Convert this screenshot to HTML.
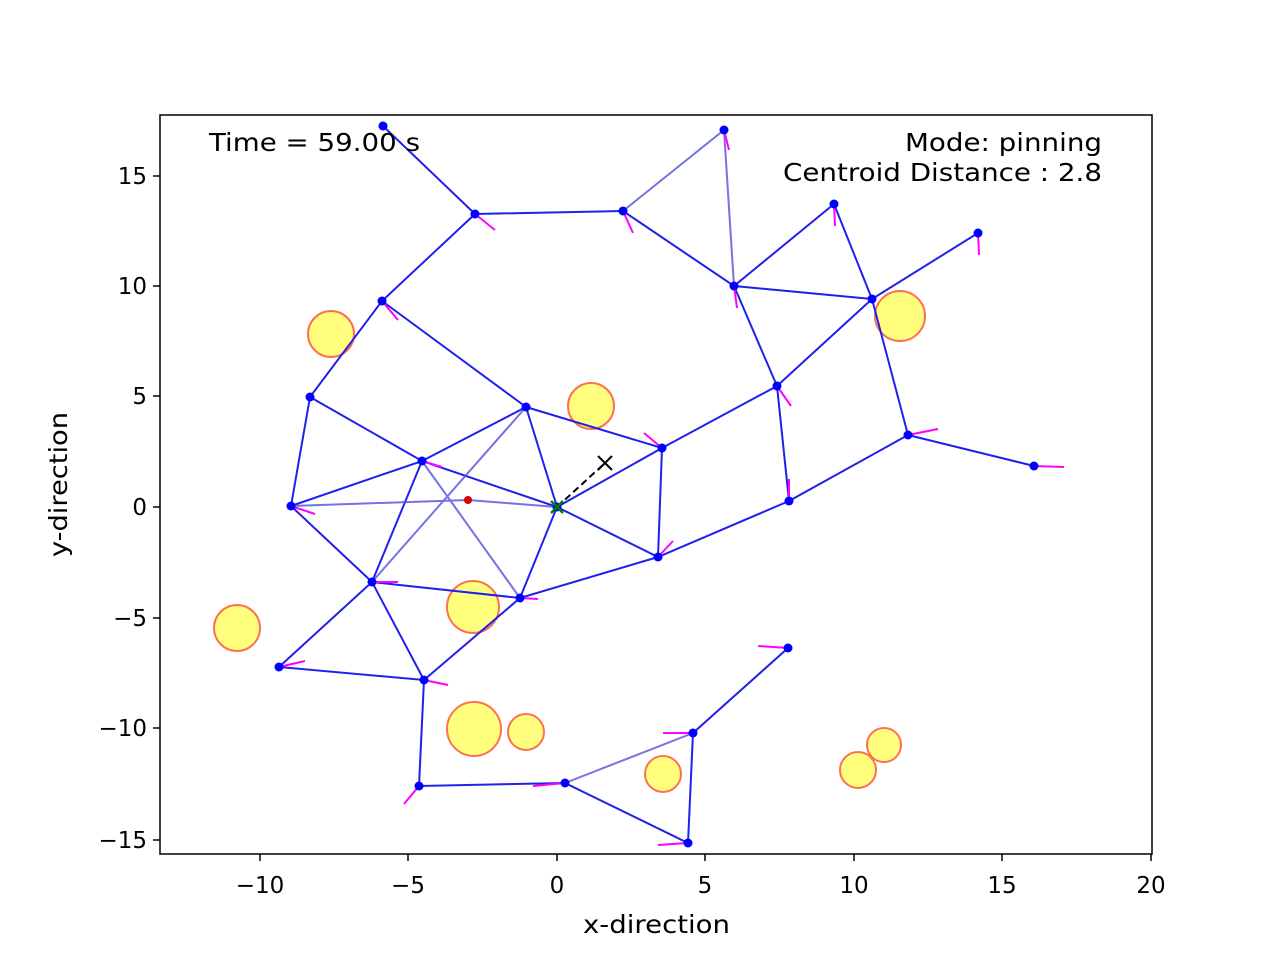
<!DOCTYPE html>
<html><head><meta charset="utf-8"><style>body{margin:0;background:#fff}svg{display:block}text{font-family:"DejaVu Sans","Liberation Sans",sans-serif;font-size:23px;fill:#000}</style></head><body>
<svg width="1280" height="960" viewBox="0 0 1280 960">
<g fill="#ffff66" fill-opacity="0.85" stroke="#ff7050" stroke-width="2">
<circle cx="331" cy="334" r="23"/><circle cx="591" cy="406" r="23"/><circle cx="900" cy="316" r="25"/><circle cx="237" cy="628" r="23"/><circle cx="473" cy="607" r="26"/><circle cx="474" cy="729" r="27"/><circle cx="526" cy="732" r="18"/><circle cx="663" cy="774" r="18"/><circle cx="858" cy="770" r="18"/><circle cx="884" cy="745" r="17"/>
</g>
<g stroke="#2020ee" stroke-width="2" fill="none">
<path d="M383 126L475 214L623 211L734 286L834 204L872 299L978 233M734 286L872 299M475 214L382 301L310 397L291 506L372 582L279 667L424 680L520 598L557 507L526 407L382 301M310 397L422 461L557 507L662 448L777 386L872 299L908 435L1034 466M908 435L789 501L777 386L734 286M662 448L658 557L557 507M291 506L422 461L372 582L424 680M422 461L526 407L662 448M372 582L520 598L658 557L789 501M424 680L419 786L565 783L688 843L693 733L788 648"/>
</g>
<g stroke="#5050dd" stroke-width="2" fill="none" opacity="0.8">
<path d="M623 211L724 130L734 286M291 506L468 500L557 507M526 407L372 582M422 461L520 598M565 783L693 733"/>
</g>
<path d="M557 507L605 463" stroke="#000" stroke-width="2" stroke-dasharray="7,4"/>
<path d="M598 456l14 14M612 456l-14 14" stroke="#000" stroke-width="2"/>
<g stroke="#ff00ff" stroke-width="2">
<path d="M724 130l5 20M475 214l20 16M623 211l10 22M834 204l1 22M978 233l1 22M734 286l3 22M382 301l16 19M777 386l14 20M908 435l30 -6M1034 466l30 1M662 448l-18 -15M789 501l0 -22M658 557l15 -16M291 506l24 8M372 582l26 0M520 598l18 1M279 667l26 -6M424 680l24 5M419 786l-15 18M565 783l-32 3M693 733l-30 0M688 843l-30 2M788 648l-30 -2M422 461l20 6"/>
</g>
<g fill="#0000ff">
<circle cx="383" cy="126" r="4.5"/><circle cx="475" cy="214" r="4.5"/><circle cx="623" cy="211" r="4.5"/><circle cx="724" cy="130" r="4.5"/><circle cx="834" cy="204" r="4.5"/><circle cx="978" cy="233" r="4.5"/><circle cx="734" cy="286" r="4.5"/><circle cx="872" cy="299" r="4.5"/><circle cx="382" cy="301" r="4.5"/><circle cx="310" cy="397" r="4.5"/><circle cx="526" cy="407" r="4.5"/><circle cx="777" cy="386" r="4.5"/><circle cx="908" cy="435" r="4.5"/><circle cx="1034" cy="466" r="4.5"/><circle cx="662" cy="448" r="4.5"/><circle cx="422" cy="461" r="4.5"/><circle cx="291" cy="506" r="4.5"/><circle cx="789" cy="501" r="4.5"/><circle cx="658" cy="557" r="4.5"/><circle cx="372" cy="582" r="4.5"/><circle cx="520" cy="598" r="4.5"/><circle cx="279" cy="667" r="4.5"/><circle cx="424" cy="680" r="4.5"/><circle cx="788" cy="648" r="4.5"/><circle cx="693" cy="733" r="4.5"/><circle cx="419" cy="786" r="4.5"/><circle cx="565" cy="783" r="4.5"/><circle cx="688" cy="843" r="4.5"/><circle cx="557" cy="507" r="4.5"/>
</g>
<circle cx="468" cy="500" r="4" fill="#dd0000"/>
<path d="M551 501l12 12M563 501l-12 12" stroke="#008000" stroke-width="2.5"/>
<rect x="160" y="115" width="992" height="739" fill="none" stroke="#000" stroke-width="1.5"/>
<g stroke="#000" stroke-width="1.5">
<path d="M260 854v7M408 854v7M557 854v7M705 854v7M854 854v7M1002 854v7M1151 854v7M160 176h-7M160 286h-7M160 396h-7M160 507h-7M160 618h-7M160 728h-7M160 840h-7"/>
</g>
<g text-anchor="middle">
<text x="260" y="893">−10</text><text x="408" y="893">−5</text><text x="557" y="893">0</text><text x="705" y="893">5</text><text x="854" y="893">10</text><text x="1002" y="893">15</text><text x="1151" y="893">20</text>
</g>
<text x="583" y="933" style="font-size:25px" textLength="147" lengthAdjust="spacingAndGlyphs">x-direction</text>
<g text-anchor="end">
<text x="147" y="184">15</text><text x="147" y="294">10</text><text x="147" y="404">5</text><text x="147" y="515">0</text><text x="147" y="626">−5</text><text x="147" y="736">−10</text><text x="147" y="848">−15</text>
</g>
<text x="905" y="151" style="font-size:25px" textLength="197" lengthAdjust="spacingAndGlyphs">Mode: pinning</text>
<text x="783" y="181" style="font-size:25px" textLength="319" lengthAdjust="spacingAndGlyphs">Centroid Distance : 2.8</text>
<text x="209" y="151" style="font-size:25px" textLength="211" lengthAdjust="spacingAndGlyphs">Time = 59.00 s</text>
<text transform="translate(67,557) rotate(-90)" style="font-size:25px" textLength="145" lengthAdjust="spacingAndGlyphs">y-direction</text>
</svg>
</body></html>
